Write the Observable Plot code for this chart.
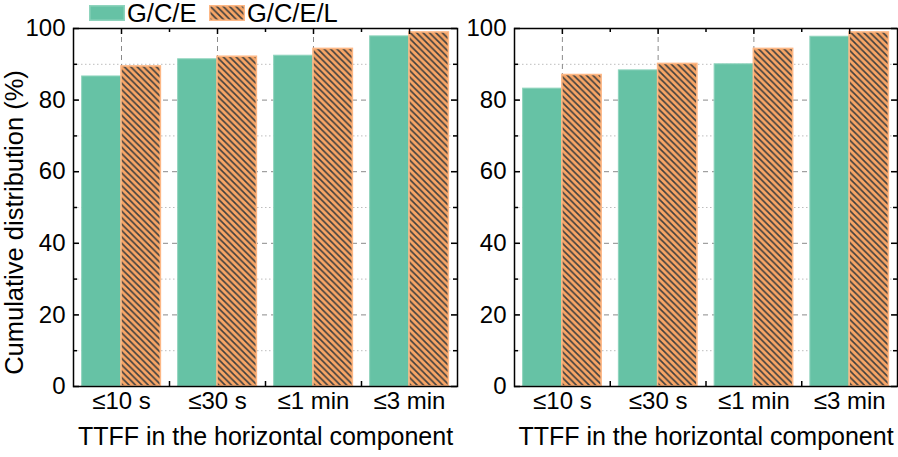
<!DOCTYPE html>
<html>
<head>
<meta charset="utf-8">
<script src="https://cdn.jsdelivr.net/npm/d3@7"></script>
<script src="https://cdn.jsdelivr.net/npm/@observablehq/plot@0.6"></script>
<style>
  body { margin: 0; background: white; }
  #wrap { position: relative; width: 898px; height: 457px; font-family: "Liberation Sans", Arial, sans-serif; }
  #plots { display: flex; flex-direction: row; }
  .leg { position: absolute; top: 5px; height: 16px; display: flex; align-items: center; font-size: 25.5px; color: #000; }
  .leg svg { display: block; margin-right: 2px; }
</style>
</head>
<body>
<svg width="0" height="0" style="position:absolute">
  <defs>
    <pattern id="hatch" patternUnits="userSpaceOnUse" width="6.4" height="6.4">
      <rect width="6.4" height="6.4" fill="#f8a565"></rect>
      <path d="M-1,-1 L7.4,7.4 M-1,5.4 L1,7.4 M5.4,-1 L7.4,1" stroke="#3f3f3f" stroke-width="1.6" fill="none"></path>
    </pattern>
  </defs>
</svg>
<div id="wrap">
  <div id="plots"></div>
</div>
<script>
const categories = ["≤10 s", "≤30 s", "≤1 min", "≤3 min"];
const seriesNames = ["G/C/E", "G/C/E/L"];
const leftGCE = [86.6, 91.4, 92.4, 97.8];
const leftGCEL = [89.4, 92.1, 94.3, 98.9];
const rightGCE = [83.2, 88.3, 90.0, 97.7];
const rightGCEL = [87.0, 90.1, 94.3, 98.9];
const yMajor = [0, 20, 40, 60, 80, 100];
const yMinor = [10, 30, 50, 70, 90];
const yGrid = [20, 40, 60, 80];
const xTitle = "TTFF in the horizontal component";
const yTitle = "Cumulative distribution (%)";

const green = "#66c2a5";
const font = "Liberation Sans, Arial, sans-serif";

function panel(gce, gcel, opts) {
  const {width, marginLeft, marginRight, showYLabel} = opts;
  const height = 457, marginTop = 28, marginBottom = 71;
  const fw = width - marginLeft - marginRight;
  const fh = height - marginTop - marginBottom;
  const rowsA = categories.map((c, i) => ({i, cat: c, series: seriesNames[0], value: gce[i]}));
  const rowsB = categories.map((c, i) => ({i, cat: c, series: seriesNames[1], value: gcel[i]}));
  const centers = categories.map((c, i) => i + 0.5);
  const bounds = categories.slice(1).map((c, i) => i + 1);
  const marks = [
    Plot.ruleY(yMinor, {stroke: "#bdbdbd", strokeWidth: 1, strokeDasharray: "1.5,2.5"}),
    Plot.ruleY(yGrid, {stroke: "#8a8a8a", strokeWidth: 1, strokeDasharray: "5,4"}),
    Plot.ruleX(centers, {stroke: "#8a8a8a", strokeWidth: 1, strokeDasharray: "5,4"}),
    Plot.rectY(rowsA, {x1: d => d.i + 0.09, x2: d => d.i + 0.5, y1: 0, y2: "value", fill: green, stroke: "#8fd4bd", strokeWidth: 1}),
    Plot.rectY(rowsB, {x1: d => d.i + 0.5, x2: d => d.i + 0.91, y1: 0, y2: "value", fill: "url(#hatch)", stroke: "#fdb886", strokeWidth: 1.6}),
    Plot.tickY(yMajor, {y: d => d, insetRight: fw - 6, stroke: "#000", strokeWidth: 1.5}),
    Plot.tickY(yMinor, {y: d => d, insetRight: fw - 4, stroke: "#000", strokeWidth: 1.5}),
    Plot.tickY(yMajor, {y: d => d, insetLeft: fw - 6, stroke: "#000", strokeWidth: 1.5}),
    Plot.tickY(yMinor, {y: d => d, insetLeft: fw - 4, stroke: "#000", strokeWidth: 1.5}),
    Plot.tickX(centers, {x: d => d, insetBottom: fh - 6, stroke: "#000", strokeWidth: 1.5}),
    Plot.tickX(bounds, {x: d => d, insetBottom: fh - 4, stroke: "#000", strokeWidth: 1.5}),
    Plot.tickX(bounds, {x: d => d, insetTop: fh - 5, stroke: "#000", strokeWidth: 1.5}),
    Plot.frame({stroke: "#000", strokeWidth: 1.5}),
    Plot.axisY({ticks: yMajor, tickSize: 0, tickPadding: 8, fontSize: 24, label: null, tickFormat: d => String(d)}),
    Plot.text(categories, {x: (d, i) => i + 0.5, frameAnchor: "bottom", dy: 22, fontSize: 24, fill: "#000"}),
    Plot.text([xTitle], {frameAnchor: "bottom", dy: 58, fontSize: 25, fill: "#000"})
  ];
  if (showYLabel) {
    marks.push(Plot.text([yTitle], {frameAnchor: "left", textAnchor: "middle", dx: -59, dy: 15, rotate: -90, fontSize: 25.5, fill: "#000"}));
  }
  return Plot.plot({
    width, height, marginLeft, marginRight, marginTop, marginBottom,
    style: {fontFamily: font, fontSize: "24px", color: "#000", background: "white", overflow: "visible"},
    x: {type: "linear", domain: [0, categories.length], axis: null},
    y: {domain: [0, 100], axis: null},
    marks
  });
}

const plots = document.getElementById("plots");
plots.appendChild(panel(leftGCE, leftGCEL, {width: 460, marginLeft: 73, marginRight: 3, showYLabel: true}));
plots.appendChild(panel(rightGCE, rightGCEL, {width: 438, marginLeft: 54, marginRight: 1, showYLabel: false}));

const wrap = document.getElementById("wrap");
const legendItems = [
  {name: seriesNames[0], left: 89, fill: green, stroke: "#8fd4bd"},
  {name: seriesNames[1], left: 209, fill: "url(#hatch)", stroke: "#fdb886"}
];
for (const it of legendItems) {
  const div = document.createElement("div");
  div.className = "leg";
  div.style.left = it.left + "px";
  div.innerHTML = `<svg width="36" height="16"><rect x="0.75" y="0.75" width="34.5" height="14.5" fill="${it.fill}" stroke="${it.stroke}" stroke-width="1.5"></rect></svg><span>${it.name}</span>`;
  wrap.appendChild(div);
}
</script>
</body>
</html>
